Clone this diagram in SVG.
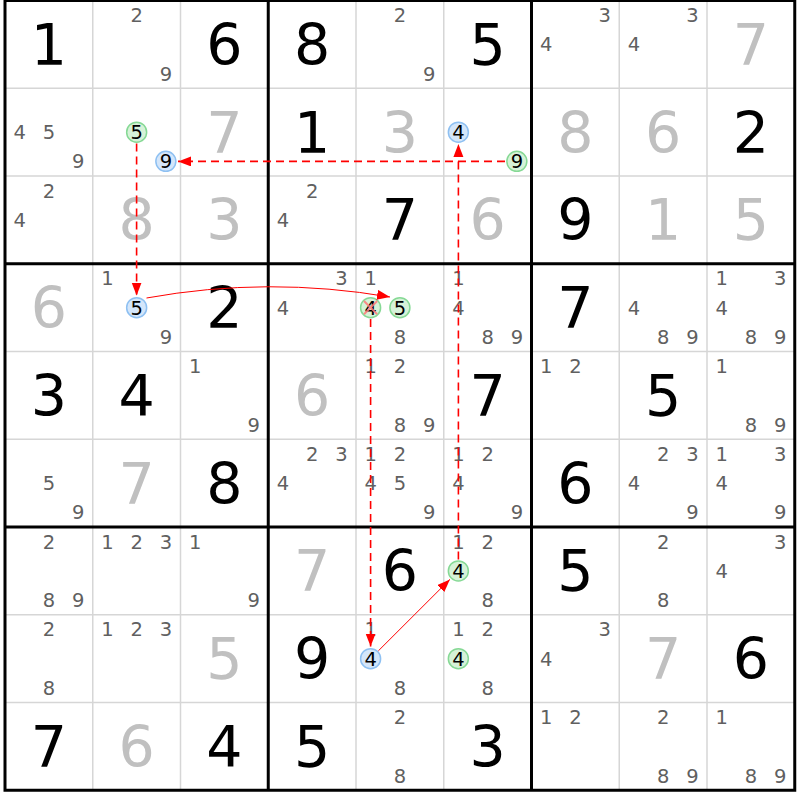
<svg xmlns="http://www.w3.org/2000/svg" width="800" height="800" viewBox="0 0 800 800">
<style>
text{font-family:"DejaVu Sans","Verdana",sans-serif;text-anchor:middle}
.g{font-size:57px;fill:#000}
.s{font-size:57px;fill:#c0c0c0}
.c{font-size:19.5px;fill:#606060}
.k{font-size:19.5px;fill:#000}
.thin{stroke:#d6d6d6;stroke-width:1.5;fill:none}
.thick{stroke:#000;stroke-width:3;fill:none}
.cb{fill:#d4e6fa;stroke:#8ec0f2;stroke-width:1.5}
.cg{fill:#d6f2d8;stroke:#86d995;stroke-width:1.5}
.dash{stroke:#ff0000;stroke-width:1.6;stroke-dasharray:8,5;fill:none}
.sol{stroke:#ff0000;stroke-width:1;fill:none}
.x{stroke:#ff7a7a;stroke-width:2;opacity:0.85}
</style>
<defs>
<marker id="ah" markerUnits="userSpaceOnUse" markerWidth="14" markerHeight="11" refX="13" refY="5" orient="auto">
<path d="M0,0 L13,5 L0,10 Z" fill="#ff0000"/>
</marker>
</defs>
<rect x="0" y="0" width="800" height="800" fill="#fff"/>
<g id="grid-thin">
<path class="thin" d="M92.75,0.5V790.25M180.5,0.5V790.25M356,0.5V790.25M443.75,0.5V790.25M619.25,0.5V790.25M707,0.5V790.25M5,88.25H794.75M5,176H794.75M5,351.5H794.75M5,439.25H794.75M5,614.75H794.75M5,702.5H794.75"/>
</g>

<g id="r1c1" transform="translate(5,0.5)"><text class="g" x="43.9" y="64.4">1</text></g>
<g id="r1c2" transform="translate(92.75,0.5)"><text class="c" x="43.9" y="21.6">2</text><text class="c" x="73.1" y="80.1">9</text></g>
<g id="r1c3" transform="translate(180.5,0.5)"><text class="g" x="43.9" y="64.4">6</text></g>
<g id="r1c4" transform="translate(268.25,0.5)"><text class="g" x="43.9" y="64.4">8</text></g>
<g id="r1c5" transform="translate(356,0.5)"><text class="c" x="43.9" y="21.6">2</text><text class="c" x="73.1" y="80.1">9</text></g>
<g id="r1c6" transform="translate(443.75,0.5)"><text class="g" x="43.9" y="64.4">5</text></g>
<g id="r1c7" transform="translate(531.5,0.5)"><text class="c" x="73.1" y="21.6">3</text><text class="c" x="14.6" y="50.9">4</text></g>
<g id="r1c8" transform="translate(619.25,0.5)"><text class="c" x="73.1" y="21.6">3</text><text class="c" x="14.6" y="50.9">4</text></g>
<g id="r1c9" transform="translate(707,0.5)"><text class="s" x="43.9" y="64.4">7</text></g>

<g id="r2c1" transform="translate(5,88.25)"><text class="c" x="14.6" y="50.9">4</text><text class="c" x="43.9" y="50.9">5</text><text class="c" x="73.1" y="80.1">9</text></g>
<g id="r2c2" transform="translate(92.75,88.25)"><circle class="cg" cx="43.9" cy="43.9" r="10"/><text class="k" x="43.9" y="50.9">5</text><circle class="cb" cx="73.1" cy="73.1" r="10"/><text class="k" x="73.1" y="80.1">9</text></g>
<g id="r2c3" transform="translate(180.5,88.25)"><text class="s" x="43.9" y="64.4">7</text></g>
<g id="r2c4" transform="translate(268.25,88.25)"><text class="g" x="43.9" y="64.4">1</text></g>
<g id="r2c5" transform="translate(356,88.25)"><text class="s" x="43.9" y="64.4">3</text></g>
<g id="r2c6" transform="translate(443.75,88.25)"><circle class="cb" cx="14.6" cy="43.9" r="10"/><text class="k" x="14.6" y="50.9">4</text><circle class="cg" cx="73.1" cy="73.1" r="10"/><text class="k" x="73.1" y="80.1">9</text></g>
<g id="r2c7" transform="translate(531.5,88.25)"><text class="s" x="43.9" y="64.4">8</text></g>
<g id="r2c8" transform="translate(619.25,88.25)"><text class="s" x="43.9" y="64.4">6</text></g>
<g id="r2c9" transform="translate(707,88.25)"><text class="g" x="43.9" y="64.4">2</text></g>

<g id="r3c1" transform="translate(5,176)"><text class="c" x="43.9" y="21.6">2</text><text class="c" x="14.6" y="50.9">4</text></g>
<g id="r3c2" transform="translate(92.75,176)"><text class="s" x="43.9" y="64.4">8</text></g>
<g id="r3c3" transform="translate(180.5,176)"><text class="s" x="43.9" y="64.4">3</text></g>
<g id="r3c4" transform="translate(268.25,176)"><text class="c" x="43.9" y="21.6">2</text><text class="c" x="14.6" y="50.9">4</text></g>
<g id="r3c5" transform="translate(356,176)"><text class="g" x="43.9" y="64.4">7</text></g>
<g id="r3c6" transform="translate(443.75,176)"><text class="s" x="43.9" y="64.4">6</text></g>
<g id="r3c7" transform="translate(531.5,176)"><text class="g" x="43.9" y="64.4">9</text></g>
<g id="r3c8" transform="translate(619.25,176)"><text class="s" x="43.9" y="64.4">1</text></g>
<g id="r3c9" transform="translate(707,176)"><text class="s" x="43.9" y="64.4">5</text></g>

<g id="r4c1" transform="translate(5,263.75)"><text class="s" x="43.9" y="64.4">6</text></g>
<g id="r4c2" transform="translate(92.75,263.75)"><text class="c" x="14.6" y="21.6">1</text><circle class="cb" cx="43.9" cy="43.9" r="10"/><text class="k" x="43.9" y="50.9">5</text><text class="c" x="73.1" y="80.1">9</text></g>
<g id="r4c3" transform="translate(180.5,263.75)"><text class="g" x="43.9" y="64.4">2</text></g>
<g id="r4c4" transform="translate(268.25,263.75)"><text class="c" x="73.1" y="21.6">3</text><text class="c" x="14.6" y="50.9">4</text></g>
<g id="r4c5" transform="translate(356,263.75)"><text class="c" x="14.6" y="21.6">1</text><circle class="cg" cx="14.6" cy="43.9" r="10"/><text class="k" x="14.6" y="50.9">4</text><path class="x" d="M8,37.3L21.2,50.5M8,50.5L21.2,37.3"/><circle class="cg" cx="43.9" cy="43.9" r="10"/><text class="k" x="43.9" y="50.9">5</text><text class="c" x="43.9" y="80.1">8</text></g>
<g id="r4c6" transform="translate(443.75,263.75)"><text class="c" x="14.6" y="21.6">1</text><text class="c" x="14.6" y="50.9">4</text><text class="c" x="43.9" y="80.1">8</text><text class="c" x="73.1" y="80.1">9</text></g>
<g id="r4c7" transform="translate(531.5,263.75)"><text class="g" x="43.9" y="64.4">7</text></g>
<g id="r4c8" transform="translate(619.25,263.75)"><text class="c" x="14.6" y="50.9">4</text><text class="c" x="43.9" y="80.1">8</text><text class="c" x="73.1" y="80.1">9</text></g>
<g id="r4c9" transform="translate(707,263.75)"><text class="c" x="14.6" y="21.6">1</text><text class="c" x="73.1" y="21.6">3</text><text class="c" x="14.6" y="50.9">4</text><text class="c" x="43.9" y="80.1">8</text><text class="c" x="73.1" y="80.1">9</text></g>

<g id="r5c1" transform="translate(5,351.5)"><text class="g" x="43.9" y="64.4">3</text></g>
<g id="r5c2" transform="translate(92.75,351.5)"><text class="g" x="43.9" y="64.4">4</text></g>
<g id="r5c3" transform="translate(180.5,351.5)"><text class="c" x="14.6" y="21.6">1</text><text class="c" x="73.1" y="80.1">9</text></g>
<g id="r5c4" transform="translate(268.25,351.5)"><text class="s" x="43.9" y="64.4">6</text></g>
<g id="r5c5" transform="translate(356,351.5)"><text class="c" x="14.6" y="21.6">1</text><text class="c" x="43.9" y="21.6">2</text><text class="c" x="43.9" y="80.1">8</text><text class="c" x="73.1" y="80.1">9</text></g>
<g id="r5c6" transform="translate(443.75,351.5)"><text class="g" x="43.9" y="64.4">7</text></g>
<g id="r5c7" transform="translate(531.5,351.5)"><text class="c" x="14.6" y="21.6">1</text><text class="c" x="43.9" y="21.6">2</text></g>
<g id="r5c8" transform="translate(619.25,351.5)"><text class="g" x="43.9" y="64.4">5</text></g>
<g id="r5c9" transform="translate(707,351.5)"><text class="c" x="14.6" y="21.6">1</text><text class="c" x="43.9" y="80.1">8</text><text class="c" x="73.1" y="80.1">9</text></g>

<g id="r6c1" transform="translate(5,439.25)"><text class="c" x="43.9" y="50.9">5</text><text class="c" x="73.1" y="80.1">9</text></g>
<g id="r6c2" transform="translate(92.75,439.25)"><text class="s" x="43.9" y="64.4">7</text></g>
<g id="r6c3" transform="translate(180.5,439.25)"><text class="g" x="43.9" y="64.4">8</text></g>
<g id="r6c4" transform="translate(268.25,439.25)"><text class="c" x="43.9" y="21.6">2</text><text class="c" x="73.1" y="21.6">3</text><text class="c" x="14.6" y="50.9">4</text></g>
<g id="r6c5" transform="translate(356,439.25)"><text class="c" x="14.6" y="21.6">1</text><text class="c" x="43.9" y="21.6">2</text><text class="c" x="14.6" y="50.9">4</text><text class="c" x="43.9" y="50.9">5</text><text class="c" x="73.1" y="80.1">9</text></g>
<g id="r6c6" transform="translate(443.75,439.25)"><text class="c" x="14.6" y="21.6">1</text><text class="c" x="43.9" y="21.6">2</text><text class="c" x="14.6" y="50.9">4</text><text class="c" x="73.1" y="80.1">9</text></g>
<g id="r6c7" transform="translate(531.5,439.25)"><text class="g" x="43.9" y="64.4">6</text></g>
<g id="r6c8" transform="translate(619.25,439.25)"><text class="c" x="43.9" y="21.6">2</text><text class="c" x="73.1" y="21.6">3</text><text class="c" x="14.6" y="50.9">4</text><text class="c" x="73.1" y="80.1">9</text></g>
<g id="r6c9" transform="translate(707,439.25)"><text class="c" x="14.6" y="21.6">1</text><text class="c" x="73.1" y="21.6">3</text><text class="c" x="14.6" y="50.9">4</text><text class="c" x="73.1" y="80.1">9</text></g>

<g id="r7c1" transform="translate(5,527)"><text class="c" x="43.9" y="21.6">2</text><text class="c" x="43.9" y="80.1">8</text><text class="c" x="73.1" y="80.1">9</text></g>
<g id="r7c2" transform="translate(92.75,527)"><text class="c" x="14.6" y="21.6">1</text><text class="c" x="43.9" y="21.6">2</text><text class="c" x="73.1" y="21.6">3</text></g>
<g id="r7c3" transform="translate(180.5,527)"><text class="c" x="14.6" y="21.6">1</text><text class="c" x="73.1" y="80.1">9</text></g>
<g id="r7c4" transform="translate(268.25,527)"><text class="s" x="43.9" y="64.4">7</text></g>
<g id="r7c5" transform="translate(356,527)"><text class="g" x="43.9" y="64.4">6</text></g>
<g id="r7c6" transform="translate(443.75,527)"><text class="c" x="14.6" y="21.6">1</text><text class="c" x="43.9" y="21.6">2</text><circle class="cg" cx="14.6" cy="43.9" r="10"/><text class="k" x="14.6" y="50.9">4</text><text class="c" x="43.9" y="80.1">8</text></g>
<g id="r7c7" transform="translate(531.5,527)"><text class="g" x="43.9" y="64.4">5</text></g>
<g id="r7c8" transform="translate(619.25,527)"><text class="c" x="43.9" y="21.6">2</text><text class="c" x="43.9" y="80.1">8</text></g>
<g id="r7c9" transform="translate(707,527)"><text class="c" x="73.1" y="21.6">3</text><text class="c" x="14.6" y="50.9">4</text></g>

<g id="r8c1" transform="translate(5,614.75)"><text class="c" x="43.9" y="21.6">2</text><text class="c" x="43.9" y="80.1">8</text></g>
<g id="r8c2" transform="translate(92.75,614.75)"><text class="c" x="14.6" y="21.6">1</text><text class="c" x="43.9" y="21.6">2</text><text class="c" x="73.1" y="21.6">3</text></g>
<g id="r8c3" transform="translate(180.5,614.75)"><text class="s" x="43.9" y="64.4">5</text></g>
<g id="r8c4" transform="translate(268.25,614.75)"><text class="g" x="43.9" y="64.4">9</text></g>
<g id="r8c5" transform="translate(356,614.75)"><text class="c" x="14.6" y="21.6">1</text><circle class="cb" cx="14.6" cy="43.9" r="10"/><text class="k" x="14.6" y="50.9">4</text><text class="c" x="43.9" y="80.1">8</text></g>
<g id="r8c6" transform="translate(443.75,614.75)"><text class="c" x="14.6" y="21.6">1</text><text class="c" x="43.9" y="21.6">2</text><circle class="cg" cx="14.6" cy="43.9" r="10"/><text class="k" x="14.6" y="50.9">4</text><text class="c" x="43.9" y="80.1">8</text></g>
<g id="r8c7" transform="translate(531.5,614.75)"><text class="c" x="73.1" y="21.6">3</text><text class="c" x="14.6" y="50.9">4</text></g>
<g id="r8c8" transform="translate(619.25,614.75)"><text class="s" x="43.9" y="64.4">7</text></g>
<g id="r8c9" transform="translate(707,614.75)"><text class="g" x="43.9" y="64.4">6</text></g>

<g id="r9c1" transform="translate(5,702.5)"><text class="g" x="43.9" y="64.4">7</text></g>
<g id="r9c2" transform="translate(92.75,702.5)"><text class="s" x="43.9" y="64.4">6</text></g>
<g id="r9c3" transform="translate(180.5,702.5)"><text class="g" x="43.9" y="64.4">4</text></g>
<g id="r9c4" transform="translate(268.25,702.5)"><text class="g" x="43.9" y="64.4">5</text></g>
<g id="r9c5" transform="translate(356,702.5)"><text class="c" x="43.9" y="21.6">2</text><text class="c" x="43.9" y="80.1">8</text></g>
<g id="r9c6" transform="translate(443.75,702.5)"><text class="g" x="43.9" y="64.4">3</text></g>
<g id="r9c7" transform="translate(531.5,702.5)"><text class="c" x="14.6" y="21.6">1</text><text class="c" x="43.9" y="21.6">2</text></g>
<g id="r9c8" transform="translate(619.25,702.5)"><text class="c" x="43.9" y="21.6">2</text><text class="c" x="43.9" y="80.1">8</text><text class="c" x="73.1" y="80.1">9</text></g>
<g id="r9c9" transform="translate(707,702.5)"><text class="c" x="14.6" y="21.6">1</text><text class="c" x="43.9" y="80.1">8</text><text class="c" x="73.1" y="80.1">9</text></g>

<g id="grid-thick">
<rect class="thick" x="5" y="0.5" width="789.75" height="789.75"/>
<path class="thick" d="M268.25,0.5V790.25M531.5,0.5V790.25M5,263.75H794.75M5,527H794.75"/>
</g>

<g id="connectors">
<line class="dash" x1="505" y1="161.4" x2="178" y2="161.4" marker-end="url(#ah)"/>
<line class="dash" x1="136.6" y1="143.5" x2="136.6" y2="295.5" marker-end="url(#ah)"/>
<path class="sol" d="M146.5,298 Q268,276 390,297" marker-end="url(#ah)"/>
<line class="dash" x1="370.6" y1="319" x2="370.6" y2="646.5" marker-end="url(#ah)"/>
<line class="sol" x1="378.4" y1="650.8" x2="449.9" y2="579.4" marker-end="url(#ah)"/>
<line class="dash" x1="458.4" y1="559.5" x2="458.4" y2="144" marker-end="url(#ah)"/>
</g>
</svg>
